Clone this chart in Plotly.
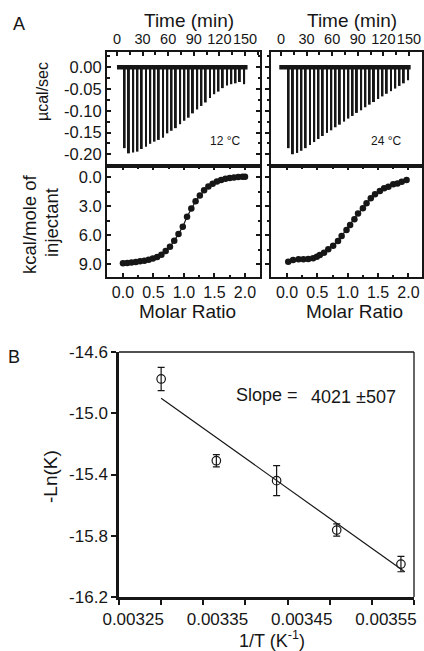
import plotly.graph_objects as go

# ---------------- data ----------------
# Panel A, raw thermograms
inj_time_min = [9, 14, 19, 24, 29, 34, 39, 44, 49, 54, 59, 64, 69, 74, 79, 84, 89, 94,
                99, 104, 109, 114, 119, 124, 129, 134, 139, 144, 149]
peak_12C = [-0.186, -0.198, -0.196, -0.194, -0.188, -0.183, -0.176, -0.171, -0.167, -0.162,
            -0.152, -0.146, -0.140, -0.131, -0.123, -0.116, -0.106, -0.097, -0.089, -0.081,
            -0.071, -0.062, -0.056, -0.048, -0.042, -0.039, -0.037, -0.034, -0.039]
peak_24C = [-0.186, -0.200, -0.197, -0.192, -0.186, -0.179, -0.172, -0.165, -0.158, -0.151,
            -0.145, -0.138, -0.132, -0.125, -0.118, -0.112, -0.105, -0.099, -0.092, -0.086,
            -0.080, -0.073, -0.067, -0.061, -0.055, -0.049, -0.043, -0.037, -0.030]
baseline_time_12C = [0, 153]
baseline_time_24C = [-2, 152]
baseline_power = [0.0, 0.0]

# Panel A, integrated heats (kcal/mole of injectant, plotted as labelled)
ratio_12C = [0.00, 0.07, 0.14, 0.21, 0.28, 0.35, 0.42, 0.49, 0.56, 0.63, 0.70, 0.77, 0.84,
             0.91, 0.98, 1.05, 1.12, 1.19, 1.26, 1.33, 1.40, 1.47, 1.54, 1.61, 1.68, 1.75,
             1.82, 1.89, 1.96, 2.00]
heat_12C = [8.93, 8.88, 8.83, 8.78, 8.72, 8.66, 8.55, 8.42, 8.26, 8.05, 7.65, 7.20, 6.60,
            5.90, 5.14, 4.10, 3.25, 2.50, 1.90, 1.38, 0.98, 0.70, 0.46, 0.30, 0.18, 0.10,
            0.04, 0.00, -0.02, -0.03]
ratio_24C = [0.02, 0.10, 0.19, 0.27, 0.35, 0.43, 0.49, 0.54, 0.61, 0.68, 0.76, 0.84, 0.90,
             0.98, 1.04, 1.11, 1.17, 1.25, 1.31, 1.38, 1.45, 1.53, 1.60, 1.67, 1.75, 1.82,
             1.89, 1.97]
heat_24C = [8.76, 8.58, 8.51, 8.51, 8.48, 8.41, 8.24, 8.07, 7.83, 7.48, 7.10, 6.62, 6.10,
            5.48, 4.96, 4.38, 3.76, 3.24, 2.72, 2.20, 1.79, 1.45, 1.17, 1.00, 0.76, 0.66,
            0.48, 0.31]

# Panel B, van't Hoff plot
inv_T = [0.003250, 0.0033155, 0.003387, 0.0034583, 0.0035345]
neg_lnK = [-14.776, -15.31, -15.44, -15.763, -15.985]
neg_lnK_err = [0.076, 0.04, 0.098, 0.04, 0.05]
fit_inv_T = [0.003250, 0.003539]
fit_neg_lnK = [-14.902, -16.035]

# tick labels
time_ticks = [0, 30, 60, 90, 120, 150]
time_ticklabels = ["0", "30", "60", "90", "120", "150"]
power_ticks = [0.0, -0.05, -0.10, -0.15, -0.20]
power_ticklabels = ["0.00", "-0.05", "-0.10", "-0.15", "-0.20"]
heat_ticks = [0, 3, 6, 9]
heat_ticklabels = ["0.0", "3.0", "6.0", "9.0"]
ratio_ticks = [0, 0.5, 1.0, 1.5, 2.0]
ratio_ticklabels = ["0.0", "0.5", "1.0", "1.5", "2.0"]
invT_ticks = [0.00320, 0.00325, 0.00330, 0.00335, 0.00340, 0.00345, 0.00350, 0.00355]
invT_ticklabels = ["", "0.00325", "", "0.00335", "", "0.00345", "", "0.00355"]
lnK_ticks = [-16.2, -15.8, -15.4, -15.0, -14.6]
lnK_ticklabels = ["-16.2", "-15.8", "-15.4", "-15.0", "-14.6"]

# ---------------- figure ----------------
W, H = 424, 651
FONT = "Liberation Sans, Arial, Helvetica, sans-serif"
INK = "#161616"


def px_x(p):
    return p / W


def px_y(p):
    return 1 - p / H


fig = go.Figure()

# raw thermograms
for xa, ya, bt, pk in [("x", "y", baseline_time_12C, peak_12C),
                       ("x2", "y2", baseline_time_24C, peak_24C)]:
    fig.add_trace(go.Bar(x=inj_time_min, y=pk, width=2.3, xaxis=xa, yaxis=ya,
                         marker=dict(color=INK, line=dict(width=0))))
    fig.add_trace(go.Scatter(x=bt, y=baseline_power, mode="lines", xaxis=xa, yaxis=ya,
                             line=dict(color=INK, width=4.5)))

# integrated heats
for xa, ya, rx, hy in [("x3", "y3", ratio_12C, heat_12C),
                       ("x4", "y4", ratio_24C, heat_24C)]:
    fig.add_trace(go.Scatter(x=rx, y=hy, mode="lines+markers", xaxis=xa, yaxis=ya,
                             line=dict(color=INK, width=1.2),
                             marker=dict(color=INK, size=6.5)))

# van't Hoff
fig.add_trace(go.Scatter(x=fit_inv_T, y=fit_neg_lnK, mode="lines", xaxis="x5", yaxis="y5",
                         line=dict(color=INK, width=1.2)))
fig.add_trace(go.Scatter(x=inv_T, y=neg_lnK, mode="markers", xaxis="x5", yaxis="y5",
                         marker=dict(symbol="circle-open", size=8.5, color=INK,
                                     line=dict(width=1.2, color=INK)),
                         error_y=dict(type="data", array=neg_lnK_err, visible=True,
                                      color=INK, thickness=1.2, width=3.5)))

# axes geometry (pixels)
xl = [px_x(107), px_x(260)]
xr = [px_x(271), px_x(422)]
y_raw = [px_y(166), px_y(52)]
y_itc = [px_y(277), px_y(166)]

base_ax = dict(showgrid=False, zeroline=False, showline=True, linecolor=INK, linewidth=2,
               tickcolor=INK, tickwidth=1.5, ticklen=4, ticks="inside", automargin=False,
               tickangle=0,
               tickfont=dict(family=FONT, size=16.5, color=INK))

time_font = dict(family=FONT, size=14.5, color=INK)
ratio_font = dict(family=FONT, size=16, color=INK)

layout_axes = dict(
    xaxis=dict(base_ax, domain=xl, anchor="y", range=[-11.7, 167.6], side="top",
               tickvals=time_ticks, ticktext=time_ticklabels, mirror=True,
               tickfont=time_font,
               minor=dict(ticks="inside", ticklen=2.5, dtick=15, tick0=0, tickcolor=INK)),
    yaxis=dict(base_ax, domain=y_raw, anchor="x", range=[-0.227, 0.035],
               tickvals=power_ticks, ticktext=power_ticklabels, mirror="ticks",
               minor=dict(ticks="inside", ticklen=2.5, dtick=0.025, tick0=0, tickcolor=INK)),
    xaxis2=dict(base_ax, domain=xr, anchor="y2", range=[-11.7, 165.3], side="top",
                tickvals=time_ticks, ticktext=time_ticklabels, mirror=True,
                tickfont=time_font,
                minor=dict(ticks="inside", ticklen=2.5, dtick=15, tick0=0, tickcolor=INK)),
    yaxis2=dict(base_ax, domain=y_raw, anchor="x2", range=[-0.227, 0.035],
                tickvals=power_ticks, showticklabels=False, mirror="ticks", ticks="outside",
                minor=dict(ticks="outside", ticklen=2.5, dtick=0.025, tick0=0, tickcolor=INK)),
    xaxis3=dict(base_ax, domain=xl, anchor="y3", range=[-0.262, 2.246],
                tickvals=ratio_ticks, ticktext=ratio_ticklabels, mirror="ticks",
                tickfont=ratio_font,
                minor=dict(ticks="inside", ticklen=2.5, dtick=0.25, tick0=0, tickcolor=INK)),
    yaxis3=dict(base_ax, domain=y_itc, anchor="x3", range=[10.34, -1.14],
                tickvals=heat_ticks, ticktext=heat_ticklabels, mirror="ticks",
                minor=dict(ticks="inside", ticklen=2.5, dtick=1.5, tick0=0, tickcolor=INK)),
    xaxis4=dict(base_ax, domain=xr, anchor="y4", range=[-0.264, 2.224],
                tickvals=ratio_ticks, ticktext=ratio_ticklabels, mirror="ticks",
                tickfont=ratio_font,
                minor=dict(ticks="inside", ticklen=2.5, dtick=0.25, tick0=0, tickcolor=INK)),
    yaxis4=dict(base_ax, domain=y_itc, anchor="x4", range=[10.34, -1.14],
                tickvals=heat_ticks, showticklabels=False, mirror="ticks", ticks="outside",
                minor=dict(ticks="outside", ticklen=2.5, dtick=1.5, tick0=0, tickcolor=INK)),
    xaxis5=dict(base_ax, domain=[px_x(119), px_x(414)], anchor="y5",
                range=[0.00320, 0.00355], tickvals=invT_ticks, ticktext=invT_ticklabels,
                ticks="outside", ticklen=5, linewidth=2.5, ticklabelshift=-28,
                tickfont=dict(family=FONT, size=17, color=INK)),
    yaxis5=dict(base_ax, domain=[px_y(597), px_y(352)], anchor="x5",
                range=[-16.2, -14.6], tickvals=lnK_ticks, ticktext=lnK_ticklabels,
                ticks="outside", ticklen=5, linewidth=2.5,
                tickfont=dict(family=FONT, size=17, color=INK)),
)

shapes = [
    dict(type="line", xref="x5 domain", yref="y5 domain", x0=0, x1=1, y0=1, y1=1,
         line=dict(color=INK, width=1.3)),
    dict(type="line", xref="x5 domain", yref="y5 domain", x0=1, x1=1, y0=0, y1=1,
         line=dict(color=INK, width=1.3)),
]


def ann(text, x, y, size, angle=0, xanchor="center"):
    return dict(text=text, x=px_x(x), y=px_y(y), xref="paper", yref="paper",
                showarrow=False, textangle=angle, xanchor=xanchor, yanchor="middle",
                font=dict(family=FONT, size=size, color=INK))


annotations = [
    ann("A", 19, 24, 18),
    ann("Time (min)", 189, 20, 19),
    ann("Time (min)", 352, 20, 19),
    ann("µcal/sec", 42, 92, 16, angle=-90),
    ann("kcal/mole of", 29, 224, 18.5, angle=-90),
    ann("injectant", 51, 223, 18.5, angle=-90),
    ann("Molar Ratio", 187, 311, 19),
    ann("Molar Ratio", 354, 311, 19),
    ann("12 °C", 225, 141, 12),
    ann("24 °C", 386, 141, 12),
    ann("B", 14, 357, 18),
    ann("-Ln(K)", 50, 477, 19, angle=-90),
    ann("1/T (K<sup>-1</sup>)", 272, 639, 18),
    ann("Slope =", 267, 395, 18),
    ann("4021 ±507", 353, 397, 18),
]

fig.update_layout(
    template="none",
    width=W, height=H, margin=dict(l=0, r=0, t=0, b=0, autoexpand=False),
    paper_bgcolor="white", plot_bgcolor="white", showlegend=False,
    font=dict(family=FONT, color=INK),
    shapes=shapes, annotations=annotations,
    **layout_axes,
)

fig.write_html("out.html", config={"displayModeBar": False},
               post_script="document.body.style.margin='0';document.body.style.overflow='hidden';")
